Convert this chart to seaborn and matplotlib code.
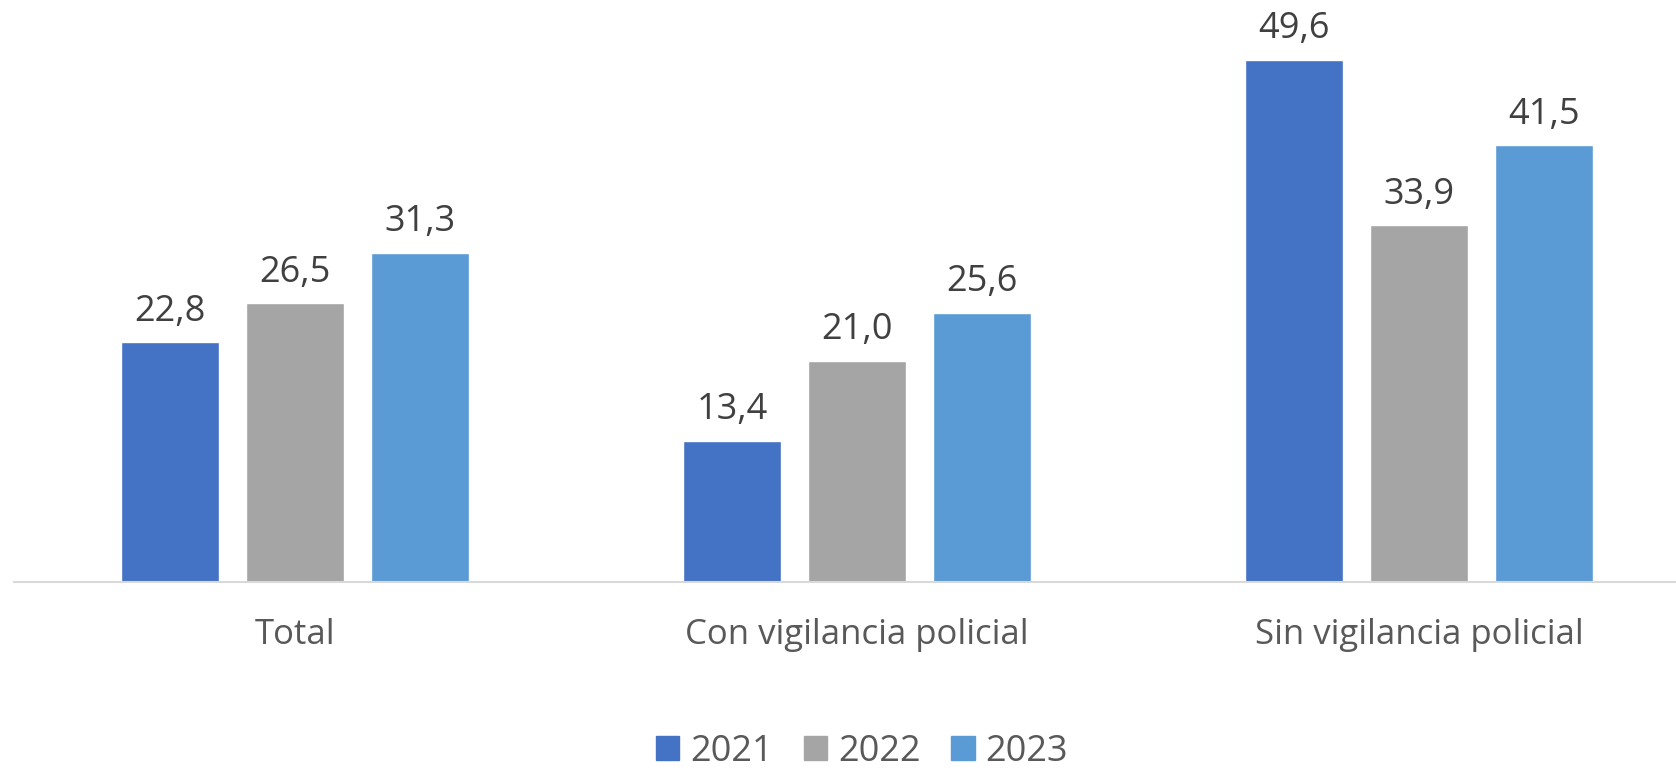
import pandas as pd
import matplotlib.pyplot as plt
import seaborn as sns
from matplotlib.patches import Patch

categorias = ["Total", "Con vigilancia policial", "Sin vigilancia policial"]
anios = ["2021", "2022", "2023"]
valores_2021 = [22.8, 13.4, 49.6]
valores_2022 = [26.5, 21.0, 33.9]
valores_2023 = [31.3, 25.6, 41.5]
colores = ["#4472C4", "#A5A5A5", "#5B9BD5"]

data = pd.DataFrame({
    "categoria": categorias * 3,
    "anio": [a for a in anios for _ in categorias],
    "valor": valores_2021 + valores_2022 + valores_2023,
})

sns.set_style("white")
plt.rcParams["font.family"] = ["Open Sans", "DejaVu Sans"]

fig = plt.figure(figsize=(16.76, 7.71), dpi=100)
# plot area: category band of 562 px, first band starts at x=14
ax = fig.add_axes([14 / 1676, (771 - 582) / 771, 1686 / 1676, 582 / 771])

sns.barplot(data=data, x="categoria", y="valor", hue="anio", palette=colores,
            width=0.667, gap=0.22, ax=ax, legend=False, saturation=1)

for container in ax.containers:
    ax.bar_label(container, labels=[f"{v:.1f}".replace(".", ",") for v in container.datavalues],
                 padding=9, fontsize=26, color="#404040")

ax.set_xlim(-0.5, 2.5)
ax.set_ylim(0, 55.3)
ax.set_xlabel("")
ax.set_ylabel("")
ax.set_yticks([])
ax.tick_params(axis="x", length=0, pad=26, labelsize=25, labelcolor="#595959")
for side in ["top", "right", "left"]:
    ax.spines[side].set_visible(False)
ax.spines["bottom"].set_color("#D9D9D9")
ax.spines["bottom"].set_linewidth(1.5)

handles = [Patch(color=c, label=a) for c, a in zip(colores, anios)]
fig.legend(handles=handles, loc="center", bbox_to_anchor=(862 / 1676, (771 - 752) / 771),
           ncol=3, frameon=False, fontsize=26, labelcolor="#595959",
           handlelength=0.65, handleheight=0.65, handletextpad=0.3, columnspacing=0.85,
           borderaxespad=0, borderpad=0)

plt.savefig("out.png", dpi=100)
plt.close()
